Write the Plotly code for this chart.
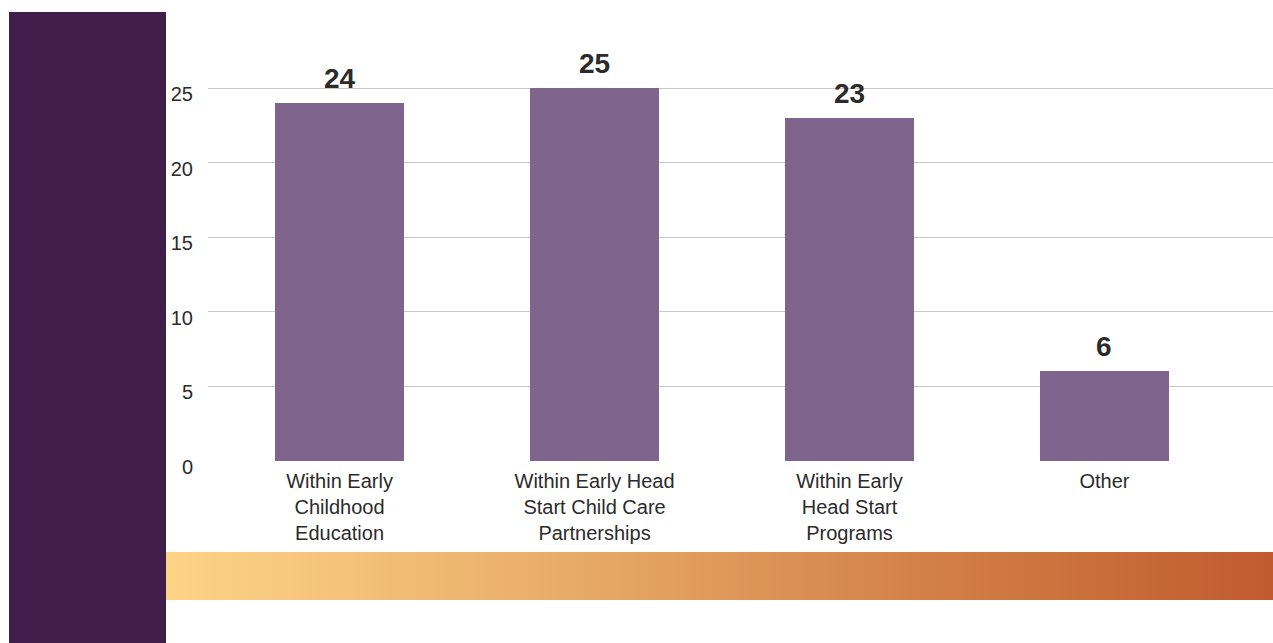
import base64
import plotly.graph_objects as go

categories = ["Within Early<br>Childhood<br>Education",
              "Within Early Head<br>Start Child Care<br>Partnerships",
              "Within Early<br>Head Start<br>Programs",
              "Other"]
values = [24, 25, 23, 6]
y_ticks = [0, 5, 10, 15, 20, 25]

W, H = 1273, 643
BAR = "#7F658D"
DARK = "#411D4B"
TXT = "#2b2b2b"
FONT = "Liberation Sans, Arial, sans-serif"

svg = ('<svg xmlns="http://www.w3.org/2000/svg" width="1107" height="48" '
       'preserveAspectRatio="none">'
       '<defs><linearGradient id="g" x1="0" y1="0" x2="1" y2="0">'
       '<stop offset="0" stop-color="#FDD486"/>'
       '<stop offset="0.35" stop-color="#E9AD69"/>'
       '<stop offset="0.7" stop-color="#D27F45"/>'
       '<stop offset="1" stop-color="#C05B30"/>'
       '</linearGradient></defs>'
       '<rect width="1107" height="48" fill="url(#g)"/></svg>')
svg_uri = "data:image/svg+xml;base64," + base64.b64encode(svg.encode()).decode()

fig = go.Figure()
fig.add_trace(go.Bar(
    x=list(range(len(categories))), y=values,
    marker=dict(color=BAR, line=dict(width=0)),
    width=0.506, hoverinfo="skip", showlegend=False,
))

for i, v in enumerate(values):
    fig.add_annotation(x=i, y=v, text=f"<b>{v}</b>", showarrow=False,
                       yanchor="bottom", yshift=7,
                       font=dict(family=FONT, size=28, color=TXT))

fig.update_layout(
    width=W, height=H,
    margin=dict(l=0, r=0, t=0, b=0, autoexpand=False),
    paper_bgcolor="white", plot_bgcolor="white",
    bargap=0,
    xaxis=dict(domain=[208 / W, 1], range=[-0.516, 3.661],
               tickmode="array", tickvals=list(range(len(categories))),
               ticktext=categories, showgrid=False, zeroline=False,
               showline=False, ticks="", fixedrange=True, automargin=False,
               tickfont=dict(family=FONT, size=20, color=TXT),
               ticklabelstandoff=6),
    yaxis=dict(domain=[(H - 461) / H, (H - 60) / H], range=[0, 26.88],
               tickmode="array", tickvals=y_ticks,
               showgrid=True, gridcolor="#C9C9C9", gridwidth=1,
               zeroline=False, showline=False, ticks="", fixedrange=True,
               automargin=False,
               tickfont=dict(family=FONT, size=20, color=TXT),
               ticklabelstandoff=14, ticklabelshift=6),
    shapes=[dict(type="rect", xref="paper", yref="paper",
                 x0=9 / W, x1=166 / W, y0=0, y1=(H - 12) / H,
                 fillcolor=DARK, line=dict(width=0), layer="below")],
    images=[dict(source=svg_uri, xref="paper", yref="paper",
                 x=166 / W, y=(H - 552) / H, sizex=(W - 166) / W,
                 sizey=48 / H, sizing="stretch", xanchor="left",
                 yanchor="top", layer="below")],
)

fig.write_html("out.html", config={"displayModeBar": False},
               post_script="document.body.style.margin='0';"
                           "document.body.style.overflow='hidden';")
